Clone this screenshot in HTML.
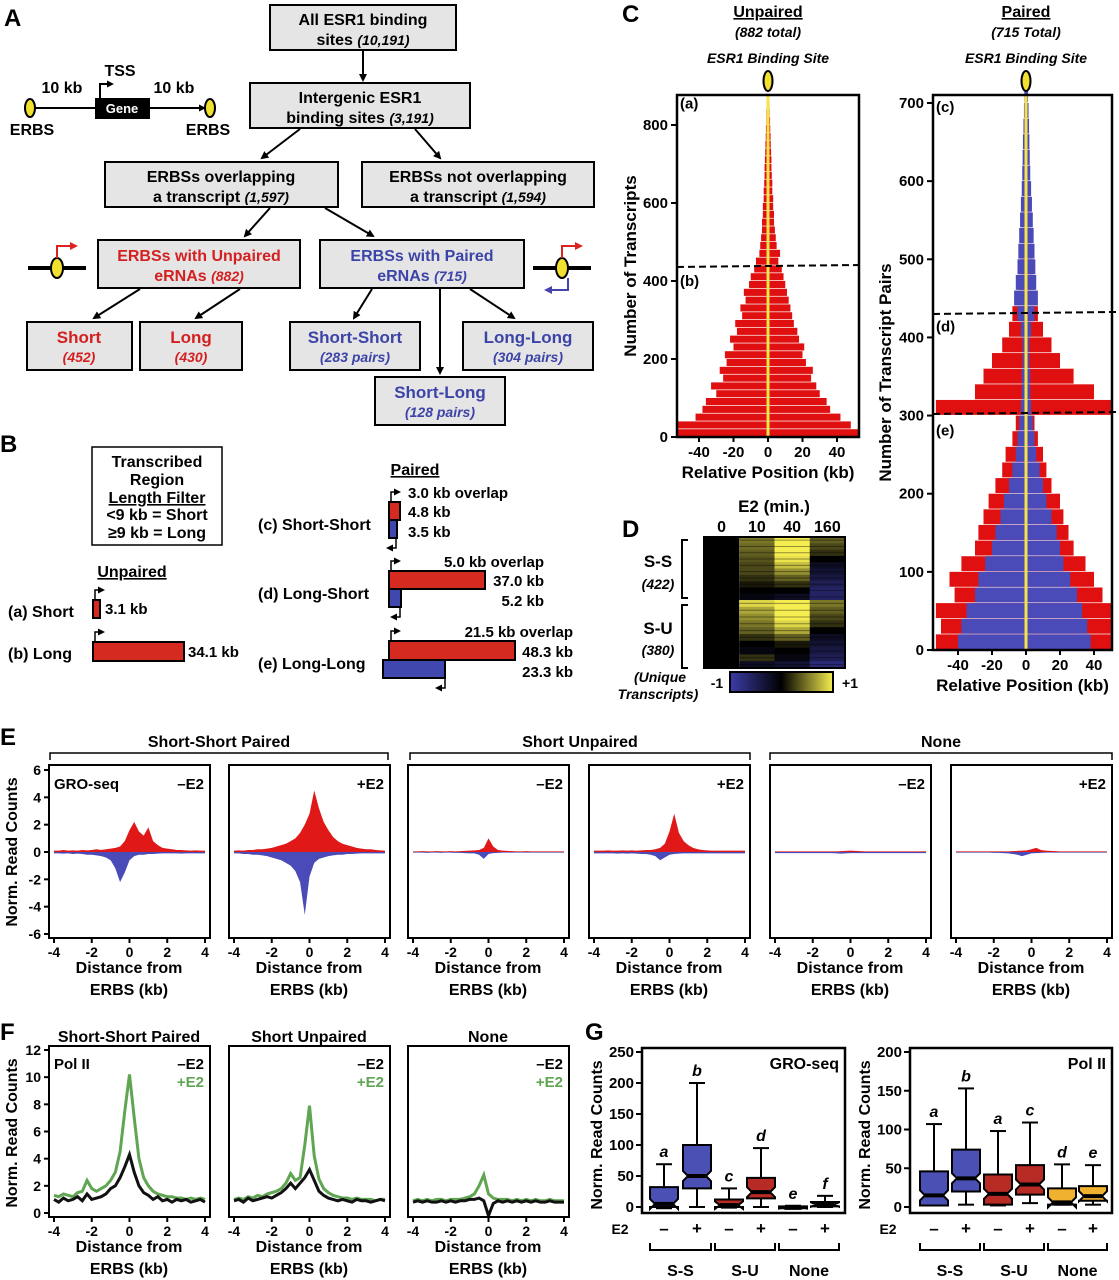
<!DOCTYPE html>
<html><head><meta charset="utf-8"><style>
body{margin:0;background:#fff}
svg{display:block;font-family:"Liberation Sans",Arial,sans-serif;font-weight:bold}
text{fill:#000}
</style></head><body>
<svg id="fig" width="1119" height="1280" viewBox="0 0 1119 1280" xmlns="http://www.w3.org/2000/svg">
<defs>
<marker id="ah" markerWidth="8" markerHeight="8" refX="6" refY="4" orient="auto" markerUnits="userSpaceOnUse"><path d="M0,0 L8,4 L0,8 z" fill="#000"/></marker>
<marker id="ahs" markerWidth="7" markerHeight="7" refX="5" refY="3.5" orient="auto" markerUnits="userSpaceOnUse"><path d="M0,0 L7,3.5 L0,7 z" fill="#000"/></marker>
<marker id="ahr" markerWidth="8" markerHeight="8" refX="6" refY="4" orient="auto" markerUnits="userSpaceOnUse"><path d="M0,0 L8,4 L0,8 z" fill="#d22"/></marker>
<marker id="ahb" markerWidth="8" markerHeight="8" refX="6" refY="4" orient="auto" markerUnits="userSpaceOnUse"><path d="M0,0 L8,4 L0,8 z" fill="#44a"/></marker>
<linearGradient id="cbar" x1="0" x2="1" y1="0" y2="0"><stop offset="0" stop-color="#3c3ca8"/><stop offset="0.5" stop-color="#000"/><stop offset="1" stop-color="#f6ee50"/></linearGradient>
</defs>

<!-- Panel A -->
<g font-size="16">
<text x="4" y="26" font-size="24">A</text>
<g>
<line x1="36" y1="108" x2="204" y2="108" stroke="#000" stroke-width="2" marker-start="url(#ahs)" marker-end="url(#ahs)"/>
<rect x="95" y="98" width="55" height="21" fill="#000"/>
<text x="122" y="113" fill="#fff" style="fill:#fff" font-size="13" text-anchor="middle">Gene</text>
<path d="M100,98 V84 H112" stroke="#000" stroke-width="2" fill="none" marker-end="url(#ahs)"/>
<text x="120" y="76" text-anchor="middle">TSS</text>
<text x="62" y="93" text-anchor="middle">10 kb</text>
<text x="174" y="93" text-anchor="middle">10 kb</text>
<ellipse cx="30" cy="108" rx="5" ry="9" fill="#f2e030" stroke="#000" stroke-width="2"/>
<ellipse cx="210" cy="108" rx="5" ry="9" fill="#f2e030" stroke="#000" stroke-width="2"/>
<text x="32" y="135" text-anchor="middle">ERBS</text>
<text x="208" y="135" text-anchor="middle">ERBS</text>
</g>
<g fill="#e5e5e5" stroke="#000" stroke-width="2">
<rect x="270" y="5" width="186" height="45"/>
<rect x="250" y="83" width="220" height="45"/>
<rect x="105" y="162" width="233" height="45"/>
<rect x="362" y="162" width="232" height="45"/>
<rect x="98" y="240" width="202" height="48"/>
<rect x="320" y="240" width="204" height="48"/>
<rect x="27" y="322" width="105" height="48"/>
<rect x="140" y="322" width="102" height="48"/>
<rect x="290" y="322" width="130" height="48"/>
<rect x="463" y="322" width="130" height="48"/>
<rect x="375" y="377" width="130" height="48"/>
</g>
<g text-anchor="middle">
<text x="363" y="25">All ESR1 binding</text><text x="363" y="45">sites <tspan font-style="italic" font-size="14">(10,191)</tspan></text>
<text x="360" y="103">Intergenic ESR1</text><text x="360" y="123">binding sites <tspan font-style="italic" font-size="14">(3,191)</tspan></text>
<text x="221" y="182">ERBSs overlapping</text><text x="221" y="202">a transcript <tspan font-style="italic" font-size="14">(1,597)</tspan></text>
<text x="478" y="182">ERBSs not overlapping</text><text x="478" y="202">a transcript <tspan font-style="italic" font-size="14">(1,594)</tspan></text>
<text x="199" y="261" style="fill:#d42020">ERBSs with Unpaired</text><text x="199" y="281" style="fill:#d42020">eRNAs <tspan font-style="italic" font-size="14">(882)</tspan></text>
<text x="422" y="261" style="fill:#3c44a8">ERBSs with Paired</text><text x="422" y="281" style="fill:#3c44a8">eRNAs <tspan font-style="italic" font-size="14">(715)</tspan></text>
<text x="79" y="343" font-size="17" style="fill:#d42020">Short</text><text x="79" y="362" font-size="14" font-style="italic" style="fill:#d42020">(452)</text>
<text x="191" y="343" font-size="17" style="fill:#d42020">Long</text><text x="191" y="362" font-size="14" font-style="italic" style="fill:#d42020">(430)</text>
<text x="355" y="343" font-size="17" style="fill:#3c44a8">Short-Short</text><text x="355" y="362" font-size="14" font-style="italic" style="fill:#3c44a8">(283 pairs)</text>
<text x="528" y="343" font-size="17" style="fill:#3c44a8">Long-Long</text><text x="528" y="362" font-size="14" font-style="italic" style="fill:#3c44a8">(304 pairs)</text>
<text x="440" y="398" font-size="17" style="fill:#3c44a8">Short-Long</text><text x="440" y="417" font-size="14" font-style="italic" style="fill:#3c44a8">(128 pairs)</text>
</g>
<g stroke="#000" stroke-width="2" marker-end="url(#ah)">
<line x1="363" y1="51" x2="363" y2="80"/>
<line x1="300" y1="129" x2="262" y2="158"/><line x1="415" y1="129" x2="440" y2="158"/>
<line x1="270" y1="208" x2="245" y2="236"/><line x1="325" y1="208" x2="373" y2="236"/>
<line x1="140" y1="289" x2="94" y2="318"/><line x1="240" y1="289" x2="196" y2="318"/>
<line x1="372" y1="289" x2="354" y2="318"/><line x1="440" y1="289" x2="440" y2="373"/><line x1="470" y1="289" x2="514" y2="318"/>
</g>
<g>
<line x1="28" y1="268" x2="86" y2="268" stroke="#000" stroke-width="4"/>
<ellipse cx="57" cy="268" rx="6" ry="10" fill="#f2e030" stroke="#000" stroke-width="2"/>
<path d="M57,258 V246 H76" stroke="#d22" stroke-width="2" fill="none" marker-end="url(#ahr)"/>
</g>
<g>
<line x1="533" y1="268" x2="591" y2="268" stroke="#000" stroke-width="4"/>
<ellipse cx="562" cy="268" rx="6" ry="10" fill="#f2e030" stroke="#000" stroke-width="2"/>
<path d="M562,258 V246 H581" stroke="#d22" stroke-width="2" fill="none" marker-end="url(#ahr)"/>
<path d="M568,278 V290 H546" stroke="#44a" stroke-width="2" fill="none" marker-end="url(#ahb)"/>
</g>
</g>

<!-- Panel B -->
<g font-size="16">
<text x="0" y="452" font-size="24">B</text>
<rect x="92" y="447" width="130" height="98" fill="#fff" stroke="#000" stroke-width="1.5"/>
<g text-anchor="middle">
<text x="157" y="467">Transcribed</text><text x="157" y="485">Region</text>
<text x="157" y="503" text-decoration="underline">Length Filter</text>
<text x="157" y="520">&lt;9 kb = Short</text><text x="157" y="538">≥9 kb = Long</text>
<text x="132" y="577" text-decoration="underline">Unpaired</text>
<text x="415" y="475" text-decoration="underline">Paired</text>
</g>
<text x="8" y="617">(a) Short</text>
<path d="M95,600 V590 H103" stroke="#000" stroke-width="1.5" fill="none" marker-end="url(#ahs)"/>
<rect x="93" y="600" width="7" height="18" fill="#d42a20" stroke="#000" stroke-width="2"/>
<text x="105" y="614" font-size="15">3.1 kb</text>
<text x="8" y="659">(b) Long</text>
<path d="M95,642 V632 H103" stroke="#000" stroke-width="1.5" fill="none" marker-end="url(#ahs)"/>
<rect x="93" y="642" width="91" height="19" fill="#d42a20" stroke="#000" stroke-width="2"/>
<text x="188" y="657" font-size="15">34.1 kb</text>
<text x="258" y="530">(c) Short-Short</text>
<path d="M391,502 V492 H399" stroke="#000" stroke-width="1.5" fill="none" marker-end="url(#ahs)"/>
<rect x="389" y="502" width="11" height="18" fill="#d42a20" stroke="#000" stroke-width="2"/>
<rect x="389" y="520" width="8" height="18" fill="#4048b0" stroke="#000" stroke-width="2"/>
<path d="M396,538 V548 H388" stroke="#000" stroke-width="1.5" fill="none" marker-end="url(#ahs)"/>
<g font-size="15"><text x="408" y="498">3.0 kb overlap</text><text x="408" y="517">4.8 kb</text><text x="408" y="537">3.5 kb</text></g>
<text x="258" y="599">(d) Long-Short</text>
<path d="M391,571 V561 H399" stroke="#000" stroke-width="1.5" fill="none" marker-end="url(#ahs)"/>
<rect x="389" y="571" width="96" height="18" fill="#d42a20" stroke="#000" stroke-width="2"/>
<rect x="389" y="589" width="12" height="18" fill="#4048b0" stroke="#000" stroke-width="2"/>
<path d="M400,607 V617 H392" stroke="#000" stroke-width="1.5" fill="none" marker-end="url(#ahs)"/>
<g font-size="15" text-anchor="end"><text x="544" y="567">5.0 kb overlap</text><text x="544" y="586">37.0 kb</text><text x="544" y="606">5.2 kb</text></g>
<text x="258" y="669">(e) Long-Long</text>
<path d="M391,641 V631 H399" stroke="#000" stroke-width="1.5" fill="none" marker-end="url(#ahs)"/>
<rect x="389" y="641" width="126" height="19" fill="#d42a20" stroke="#000" stroke-width="2"/>
<rect x="383" y="660" width="62" height="18" fill="#4048b0" stroke="#000" stroke-width="2"/>
<path d="M445,678 V688 H437" stroke="#000" stroke-width="1.5" fill="none" marker-end="url(#ahs)"/>
<g font-size="15" text-anchor="end"><text x="573" y="637">21.5 kb overlap</text><text x="573" y="657">48.3 kb</text><text x="573" y="677">23.3 kb</text></g>
</g>

<!-- Static labels C/D/E/F/G -->
<g font-size="24">
<text x="622" y="22">C</text><text x="622" y="537">D</text><text x="0" y="745">E</text><text x="0" y="1040">F</text><text x="585" y="1040">G</text>
</g>
<g id="dyn"></g>
</svg>
<script>
// ---------- data ----------
const unpairedLeft=[-53,-53,-42,-38,-36,-30,-33,-26,-28,-24,-25,-20,-22,-18,-19,-15,-16,-13,-14,-11,-10,-8,-7,-5,-4.5,-4,-3.5,-3.5,-3,-3,-2.5,-2.5,-2.2,-2,-2,-1.8,-1.6,-1.5,-1.3,-1.2,-1,-1,-0.8,-0.8];
const unpairedRight=[53,48,42,36,34,30,28,25,26,22,20,21,18,17,15,14,13,12,11,10,9,8,6,7,5,4.5,4,3.5,3.5,3,3,2.5,2.5,2.2,2,2,1.8,1.6,1.5,1.3,1.2,1,0.9,0.8];
const pairedRedLeft=[-53,-50,-53,-42,-45,-38,-30,-28,-25,-22,-18,-14,-12,-8,-6,-53,-30,-25,-20,-14,-10,-8,-5,-4,-3.5,-3,-2.5,-2.5,-2,-2,-1.8,-1.5,-1.2,-1,-1,-0.8];
const pairedRedRight=[53,52,50,45,40,35,28,25,22,20,15,12,10,7,5,53,40,28,20,15,10,7,5,4.5,4,3.5,3,3,2.5,2,2,1.8,1.5,1.2,1,0.8];
const pairedBlueLeft=[-40,-38,-35,-30,-28,-24,-20,-18,-15,-13,-10,-8,-6,-5,-4,-3,-2.5,-2.5,-2,-2,-3,-5,-7,-6,-5,-4.5,-4,-3.5,-3,-2.5,-2.2,-2,-1.8,-1.5,-1.2,-1];
const pairedBlueRight=[38,36,33,30,26,22,20,18,15,12,10,8,6,5,4,3,2.5,2.5,2,2,3,5,7,6,5.5,5,4.5,4,3.5,3,2.5,2.2,2,1.8,1.5,1.2];
const pairedTicks=[0,100,200,300,400,500,600,700];
const unpairedTicks=[0,200,400,600,800];
const kbTicks=[-40,-20,0,20,40];
const heatTimes=["0","10","40","160"];
const ssCol10=[0.5,0.45,0.4,0.35,0.3,0.3,0.2,0.1,0,-0.1];
const ssCol40=[1,1,1,0.95,0.8,0.6,0.4,0.2,0,-0.2];
const ssCol160=[0.4,0.3,0.2,0,-0.2,-0.3,-0.4,-0.5,-0.6,-0.6];
const suCol10=[0.9,0.7,0.6,0.5,0.4,0.2,0,-0.1,0.2,-0.2];
const suCol40=[1,1,1,0.9,0.7,0.4,0.1,0,-0.1,-0.3];
const suCol160=[0.5,0.4,0.3,0.2,0,-0.2,-0.3,-0.4,-0.5,-0.7];
const distX=[-4,-3.75,-3.5,-3.25,-3,-2.75,-2.5,-2.25,-2,-1.75,-1.5,-1.25,-1,-0.75,-0.5,-0.25,0,0.25,0.5,0.75,1,1.25,1.5,1.75,2,2.25,2.5,2.75,3,3.25,3.5,3.75,4];
const e1Pos=[.1,.1,.15,.1,.12,.1,.15,.12,.15,.2,.15,.2,.25,.3,.4,.8,1.6,2.2,1.5,1.2,1.8,.8,.5,.3,.25,.2,.15,.15,.12,.1,.12,.1,.1];
const e1Neg=[-.1,-.1,-.12,-.1,-.15,-.12,-.15,-.2,-.2,-.25,-.3,-.4,-.6,-1.2,-2.2,-1.5,-.6,-.3,-.2,-.2,-.15,-.15,-.12,-.1,-.1,-.1,-.1,-.12,-.1,-.1,-.1,-.1,-.1];
const e2Pos=[.1,.12,.1,.15,.15,.2,.2,.25,.3,.4,.5,.6,.8,1,1.4,2,2.8,4.5,3.2,2.2,1.6,1.1,.8,.6,.5,.4,.3,.25,.2,.2,.15,.12,.1];
const e2Neg=[-.1,-.1,-.15,-.15,-.2,-.2,-.25,-.3,-.4,-.5,-.6,-.8,-1,-1.4,-2.2,-4.6,-1.8,-.8,-.5,-.4,-.3,-.25,-.2,-.2,-.15,-.15,-.12,-.1,-.1,-.1,-.1,-.1,-.1];
const e3Pos=[.05,.05,.06,.05,.05,.06,.05,.05,.06,.05,.06,.08,.1,.12,.15,.3,1,.4,.15,.1,.08,.06,.05,.05,.06,.05,.05,.05,.05,.05,.05,.05,.05];
const e3Neg=[-.05,-.05,-.05,-.06,-.05,-.05,-.06,-.05,-.05,-.06,-.06,-.08,-.1,-.1,-.2,-.5,-.15,-.08,-.06,-.05,-.05,-.05,-.05,-.05,-.05,-.05,-.05,-.05,-.05,-.05,-.05,-.05,-.05];
const e4Pos=[.1,.1,.1,.12,.1,.1,.12,.1,.12,.1,.12,.15,.15,.2,.3,.6,1.5,2.8,1.4,.8,.5,.3,.2,.15,.12,.1,.1,.1,.1,.1,.1,.1,.1];
const e4Neg=[-.1,-.1,-.1,-.1,-.1,-.12,-.1,-.12,-.1,-.12,-.15,-.15,-.2,-.3,-.6,-.4,-.2,-.15,-.12,-.1,-.1,-.1,-.1,-.1,-.1,-.1,-.1,-.1,-.1,-.1,-.1,-.1,-.1];
const e5Pos=[.05,.05,.05,.05,.05,.05,.05,.05,.05,.05,.05,.05,.05,.05,.06,.08,.1,.08,.06,.05,.05,.05,.05,.05,.05,.05,.05,.05,.05,.05,.05,.05,.05];
const e5Neg=[-.08,-.08,-.08,-.08,-.08,-.08,-.08,-.08,-.08,-.08,-.08,-.08,-.08,-.1,-.12,-.1,-.08,-.08,-.08,-.08,-.08,-.08,-.08,-.08,-.08,-.08,-.08,-.08,-.08,-.08,-.08,-.08,-.08];
const e6Pos=[.05,.05,.05,.05,.05,.05,.05,.05,.05,.05,.05,.05,.06,.08,.1,.12,.2,.3,.15,.1,.08,.06,.05,.05,.05,.05,.05,.05,.05,.05,.05,.05,.05];
const e6Neg=[-.05,-.05,-.05,-.05,-.05,-.05,-.05,-.05,-.06,-.06,-.08,-.1,-.15,-.2,-.3,-.2,-.1,-.08,-.06,-.05,-.05,-.05,-.05,-.05,-.05,-.05,-.05,-.05,-.05,-.05,-.05,-.05,-.05];
const eYTicks=[-6,-4,-2,0,2,4,6];
const distTicks=[-4,-2,0,2,4];
const f1Plus=[1.3,1.2,1.4,1.3,1.2,1.5,1.6,2.4,1.8,1.6,1.8,2,2.4,3,4.5,7.5,10.2,7,4,2.6,2,1.6,1.4,1.3,1.2,1.2,1.1,1.1,1,1.1,1,1.1,1];
const f1Minus=[1,.8,1.1,.9,1,1.2,.9,1.4,1,1.1,1.2,1.4,1.8,2,2.6,3.4,4.3,3,2,1.5,1.3,1,1.2,.9,1,.8,1,.9,1,.8,.9,1,.8];
const f2Plus=[1,1.1,1,1.2,1.1,1.3,1.2,1.4,1.5,1.6,1.8,2.2,2.9,2.4,2.6,5,7.9,4.2,2.5,1.8,1.5,1.3,1.2,1.1,1.1,1,1.1,1,1,1,.9,1,1];
const f2Minus=[.9,1,.8,1.1,.9,1,1.1,1.2,1.1,1.3,1.5,1.8,2.2,1.8,2.2,2.6,3.2,2.4,1.6,1.3,1.1,1,.9,1,.9,.8,1,.9,.9,.8,.9,1,.9];
const f3Plus=[.9,1,.9,1,.9,1,1,.9,1,1,1,1.1,1.2,1.4,2,2.8,1.4,1.1,1,1,1,.9,1,.9,1,.9,1,.9,.9,1,.9,.9,.9];
const f3Minus=[.8,.9,.8,.9,.8,.8,.9,.8,.9,.8,.9,.9,1,1,1.1,.9,-.2,.7,.9,.8,.9,.8,.9,.8,.9,.8,.9,.8,.8,.9,.8,.8,.8];
const fYTicks=[0,2,4,6,8,10,12];
const groups=["S-S","S-U","None"];
const groLetters=["a","b","c","d","e","f"];
const groMin=[-2,0,-1,0,-3,0], groQ1=[0,30,0,14,-2,1], groMed=[5,50,3,24,-1,4], groQ3=[32,100,12,47,1,8], groMax=[69,200,30,95,2,18];
const polLetters=["a","b","a","c","d","e"];
const polMin=[2,3,2,5,3,3], polQ1=[2,20,3,16,3,8], polMed=[15,37,17,29,6,14], polQ3=[46,74,42,54,24,27], polMax=[107,153,98,109,55,54];
const groTicks=[0,50,100,150,200,250];
const polTicks=[0,50,100,150,200];

// ---------- helpers ----------
const NS="http://www.w3.org/2000/svg";
const root=document.getElementById('dyn');
function mk(tag,attrs,name,parent){
  const el=document.createElementNS(NS,tag);
  for(const k in attrs) el.setAttribute(k,attrs[k]);
  
  
  (parent||root).appendChild(el);
  return el;
}
function txt(x,y,s,name,opt){
  const a=Object.assign({x:x,y:y},opt||{});
  const t=mk('text',a,name);
  t.textContent=s;return t;
}
function lin(d0,d1,r0,r1){return v=>r0+(v-d0)/(d1-d0)*(r1-r0);}

// ---------- C ----------
function barPanel(cfg){
  const X=lin(-40,40,cfg.x40n,cfg.x40p), Y=lin(0,cfg.tv,cfg.y0,cfg.yt);
  const g=mk('g',{},cfg.name);
  cfg.series.forEach(s=>{
    s.L.forEach((l,i)=>{
      const y1=Y(i*20), y2=Y(Math.min((i+1)*20,cfg.max));
      const xl=Math.max(X(l),cfg.x0), xr=Math.min(X(s.R[i]),cfg.x1);
      mk('rect',{x:xl,y:y2,width:xr-xl,height:y1-y2-0.7,fill:s.c},'bar-'+s.n+'-'+i,g);
    });
  });
  mk('line',{x1:X(0),x2:X(0),y1:cfg.top,y2:cfg.y0,stroke:'#f6e24a','stroke-width':3},'binding-site-line',g);
  mk('rect',{x:cfg.x0,y:cfg.top,width:cfg.x1-cfg.x0,height:cfg.y0-cfg.top,fill:'none',stroke:'#000','stroke-width':2.5},'plot-frame',g);
  cfg.ticks.forEach(t=>{
    mk('line',{x1:cfg.x0-6,x2:cfg.x0,y1:Y(t),y2:Y(t),stroke:'#000','stroke-width':2},'y-tick',g);
    txt(cfg.x0-9,Y(t)+5,String(t),'y-tick-label',{'text-anchor':'end','font-size':15});
  });
  kbTicks.forEach(t=>{
    mk('line',{x1:X(t),x2:X(t),y1:cfg.y0,y2:cfg.y0+5,stroke:'#000','stroke-width':2},'x-tick',g);
    txt(X(t),cfg.y0+20,String(t),'x-tick-label',{'text-anchor':'middle','font-size':15});
  });
  txt((cfg.x0+cfg.x1)/2,cfg.y0+41,'Relative Position (kb)','x-axis-title',{'text-anchor':'middle','font-size':17});
  txt(0,0,cfg.ytitle,'y-axis-title',{'text-anchor':'middle','font-size':17,transform:`translate(${cfg.ytx},${(cfg.top+cfg.y0)/2}) rotate(-90)`});
  cfg.dashes.forEach(d=>mk('line',{x1:cfg.x0,x2:cfg.x1+4,y1:Y(d),y2:Y(d)-2,stroke:'#000','stroke-width':2,'stroke-dasharray':'7,4'},'divider-line',g));
  cfg.tags.forEach(t=>txt(cfg.x0+3,Y(t[1])+5,t[0],'subset-label',{'font-size':15}));
  const cx=X(0);
  txt(cx,17,cfg.title,'panel-title',{'text-anchor':'middle','font-size':16,'text-decoration':'underline'});
  txt(cx,37,cfg.sub,'panel-subtitle',{'text-anchor':'middle','font-size':14,'font-style':'italic'});
  txt(cx,63,'ESR1 Binding Site','binding-site-title',{'text-anchor':'middle','font-size':14,'font-style':'italic'});
  mk('ellipse',{cx:cx,cy:81,rx:4.5,ry:10,fill:'#f2e030',stroke:'#000','stroke-width':2},'binding-site-icon',g);
}
barPanel({name:'unpaired-chart',x0:677,x1:859,x40n:699,x40p:837,y0:437,yt:125,tv:800,top:95,max:882,
  series:[{n:'unpaired',L:unpairedLeft,R:unpairedRight,c:'#e01010'}],ticks:unpairedTicks,ytitle:'Number of Transcripts',ytx:636,
  dashes:[436],tags:[['(a)',855],['(b)',400]],title:'Unpaired',sub:'(882 total)'});
barPanel({name:'paired-chart',x0:933,x1:1112,x40n:958,x40p:1094,y0:650,yt:103,tv:700,top:95,max:715,
  series:[{n:'red',L:pairedRedLeft,R:pairedRedRight,c:'#e01010'},{n:'blue',L:pairedBlueLeft,R:pairedBlueRight,c:'#4a4ab8'}],ticks:pairedTicks,ytitle:'Number of Transcript Pairs',ytx:891,
  dashes:[430,302],tags:[['(c)',695],['(d)',414],['(e)',281]],title:'Paired',sub:'(715 Total)'});

// ---------- D ----------
function hcol(v){
  if(v>=0){const r=Math.round(246*v),g=Math.round(238*v),b=Math.round(80*v);return `rgb(${r},${g},${b})`;}
  const a=-v;return `rgb(${Math.round(60*a)},${Math.round(60*a)},${Math.round(168*a)})`;
}
(function(){
  const g=mk('g',{},'heatmap');
  const x0=704,cw=35.25,groupsD=[{y:537,h:63,cols:[ssCol10,ssCol40,ssCol160]},{y:600,h:68,cols:[suCol10,suCol40,suCol160]}];
  mk('rect',{x:x0,y:537,width:cw,height:131,fill:'#000'},'heat-col-0',g);
  groupsD.forEach((gr,gi)=>{
    gr.cols.forEach((col,ci)=>{
      const bh=gr.h/col.length;
      col.forEach((v,ri)=>{
        mk('rect',{x:x0+cw*(ci+1),y:gr.y+ri*bh,width:cw+0.3,height:bh+0.3,fill:hcol(v)},'heat-cell',g);
        mk('line',{x1:x0+cw*(ci+1),x2:x0+cw*(ci+2),y1:gr.y+ri*bh+bh/2,y2:gr.y+ri*bh+bh/2,stroke:hcol(v*0.6),'stroke-width':1},'heat-texture',g);
      });
    });
  });
  mk('rect',{x:x0,y:537,width:cw*4,height:131,fill:'none',stroke:'#000','stroke-width':2},'heatmap-frame',g);
  heatTimes.forEach((t,i)=>txt(x0+cw*(i+0.5),532,t,'heat-time-label',{'text-anchor':'middle','font-size':16}));
  txt(774,512,'E2 (min.)','heat-x-title',{'text-anchor':'middle','font-size':17});
  txt(658,567,'S-S','ss-label',{'text-anchor':'middle','font-size':17});
  txt(658,589,'(422)','ss-count',{'text-anchor':'middle','font-size':14,'font-style':'italic'});
  txt(658,634,'S-U','su-label',{'text-anchor':'middle','font-size':17});
  txt(658,655,'(380)','su-count',{'text-anchor':'middle','font-size':14,'font-style':'italic'});
  mk('path',{d:'M688,540 H682 V598 H688 M688,605 H682 V668 H688',stroke:'#000','stroke-width':2,fill:'none'},'group-brackets',g);
  txt(660,682,'(Unique','unique-label',{'text-anchor':'middle','font-size':14,'font-style':'italic'});
  txt(658,699,'Transcripts)','unique-label-2',{'text-anchor':'middle','font-size':14,'font-style':'italic'});
  mk('rect',{x:730,y:672,width:103,height:20,fill:'url(#cbar)',stroke:'#000','stroke-width':2},'colorbar',g);
  txt(717,688,'-1','colorbar-min',{'text-anchor':'middle','font-size':14});
  txt(850,688,'+1','colorbar-max',{'text-anchor':'middle','font-size':14});
})();

// ---------- E ----------
const eLefts=[49,229,408,589,770,951];
const eData=[[e1Pos,e1Neg],[e2Pos,e2Neg],[e3Pos,e3Neg],[e4Pos,e4Neg],[e5Pos,e5Neg],[e6Pos,e6Neg]];
function areaPath(X,Y,xs,ys){let d=`M${X(xs[0])},${Y(0)}`;xs.forEach((x,i)=>d+=` L${X(x)},${Y(ys[i])}`);return d+` L${X(xs[xs.length-1])},${Y(0)} Z`;}
function linePath(X,Y,xs,ys){return xs.map((x,i)=>(i?'L':'M')+X(x)+','+Y(ys[i])).join(' ');}
function distAxes(g,left,X,y0,yb){
  distTicks.forEach(t=>{
    mk('line',{x1:X(t),x2:X(t),y1:yb,y2:yb+5,stroke:'#000','stroke-width':2},'x-tick',g);
    txt(X(t),yb+19,String(t),'x-tick-label',{'text-anchor':'middle','font-size':14});
  });
  txt(left+80,yb+35,'Distance from','x-axis-title',{'text-anchor':'middle','font-size':16});
  txt(left+80,yb+57,'ERBS (kb)','x-axis-title-2',{'text-anchor':'middle','font-size':16});
}
eLefts.forEach((left,pi)=>{
  const g=mk('g',{},'gro-profile-'+(pi+1));
  const X=lin(-4,4,left+5,left+156), Y=lin(0,6,852,770);
  mk('path',{d:areaPath(X,Y,distX,eData[pi][0]),fill:'#e01818'},'plus-strand-area',g);
  mk('path',{d:areaPath(X,Y,distX,eData[pi][1]),fill:'#4a4ab8'},'minus-strand-area',g);
  mk('rect',{x:left,y:765,width:161,height:173,fill:'none',stroke:'#000','stroke-width':2},'plot-frame',g);
  if(pi===0){eYTicks.forEach(t=>{mk('line',{x1:left-5,x2:left,y1:Y(t),y2:Y(t),stroke:'#000','stroke-width':2},'y-tick',g);
    txt(left-8,Y(t)+5,String(t),'y-tick-label',{'text-anchor':'end','font-size':14});});
    txt(left+5,789,'GRO-seq','assay-label',{'font-size':15});}
  txt(left+155,789,pi%2?'+E2':'–E2','treatment-label',{'text-anchor':'end','font-size':15});
  distAxes(g,left,X,852,938);
});
txt(0,0,'Norm. Read Counts','e-y-axis-title',{'text-anchor':'middle','font-size':16,transform:'translate(17,852) rotate(-90)'});
[['Short-Short Paired',50,388],['Short Unpaired',410,750],['None',770,1112]].forEach(b=>{
  txt((b[1]+b[2])/2,747,b[0],'group-title',{'text-anchor':'middle','font-size':16});
  mk('path',{d:`M${b[1]},760 V753 H${b[2]} V760`,stroke:'#000','stroke-width':1.5,fill:'none'},'group-bracket');
});

// ---------- F ----------
const fData=[[f1Minus,f1Plus],[f2Minus,f2Plus],[f3Minus,f3Plus]];
const fTitles=['Short-Short Paired','Short Unpaired','None'];
[49,229,408].forEach((left,pi)=>{
  const g=mk('g',{},'polii-profile-'+(pi+1));
  const X=lin(-4,4,left+5,left+156), Y=lin(0,12,1213,1050);
  mk('path',{d:linePath(X,Y,distX,fData[pi][1]),fill:'none',stroke:'#5fa552','stroke-width':3},'plus-e2-line',g);
  mk('path',{d:linePath(X,Y,distX,fData[pi][0]),fill:'none',stroke:'#111','stroke-width':3},'minus-e2-line',g);
  mk('rect',{x:left,y:1046,width:161,height:171,fill:'none',stroke:'#000','stroke-width':2},'plot-frame',g);
  if(pi===0){fYTicks.forEach(t=>{mk('line',{x1:left-5,x2:left,y1:Y(t),y2:Y(t),stroke:'#000','stroke-width':2},'y-tick',g);
    txt(left-8,Y(t)+5,String(t),'y-tick-label',{'text-anchor':'end','font-size':14});});
    txt(left+5,1069,'Pol II','assay-label',{'font-size':15});}
  txt(left+155,1069,'–E2','legend-minus-e2',{'text-anchor':'end','font-size':15});
  txt(left+155,1087,'+E2','legend-plus-e2',{'text-anchor':'end','font-size':15,style:'fill:#5fa552'});
  txt(left+80,1042,fTitles[pi],'group-title',{'text-anchor':'middle','font-size':16});
  distAxes(g,left,X,1213,1217);
});
txt(0,0,'Norm. Read Counts','f-y-axis-title',{'text-anchor':'middle','font-size':16,transform:'translate(17,1133) rotate(-90)'});

// ---------- G ----------
const boxColors=['#4a50b4','#4a50b4','#b82a24','#b82a24','#f0b030','#f0b030'];
function boxPanel(cfg){
  const g=mk('g',{},cfg.name);
  const Y=lin(0,cfg.tv,1207,1052);
  cfg.xs.forEach((cx,i)=>{
    const w=14,n=5,yq1=Y(cfg.q1[i]),yq3=Y(cfg.q3[i]),ym=Y(cfg.med[i]);
    mk('line',{x1:cx,x2:cx,y1:Y(cfg.max[i]),y2:Y(cfg.min[i]),stroke:'#000','stroke-width':2},'whisker',g);
    mk('line',{x1:cx-8,x2:cx+8,y1:Y(cfg.max[i]),y2:Y(cfg.max[i]),stroke:'#000','stroke-width':2},'whisker-cap',g);
    mk('line',{x1:cx-8,x2:cx+8,y1:Y(cfg.min[i]),y2:Y(cfg.min[i]),stroke:'#000','stroke-width':2},'whisker-cap',g);
    const nt=Math.min(5,(yq1-yq3)/2);
    mk('path',{d:`M${cx-w},${yq3} H${cx+w} V${ym-nt} L${cx+w-n},${ym} L${cx+w},${ym+nt} V${yq1} H${cx-w} V${ym+nt} L${cx-w+n},${ym} L${cx-w},${ym-nt} Z`,fill:cfg.colors[i],stroke:'#000','stroke-width':2},'box-'+i,g);
    mk('line',{x1:cx-w+n,x2:cx+w-n,y1:ym,y2:ym,stroke:'#000','stroke-width':4},'median',g);
    txt(cx,Y(cfg.max[i])-7,cfg.letters[i],'significance-letter',{'text-anchor':'middle','font-size':16,'font-style':'italic'});
    txt(cx,1234,i%2?'+':'–','e2-sign',{'text-anchor':'middle','font-size':17});
  });
  mk('rect',{x:cfg.x0,y:1048,width:cfg.x1-cfg.x0,height:165,fill:'none',stroke:'#000','stroke-width':2.5},'plot-frame',g);
  cfg.ticks.forEach(t=>{mk('line',{x1:cfg.x0-6,x2:cfg.x0,y1:Y(t),y2:Y(t),stroke:'#000','stroke-width':2},'y-tick',g);
    txt(cfg.x0-8,Y(t)+5,String(t),'y-tick-label',{'text-anchor':'end','font-size':15});});
  txt(cfg.x1-6,1069,cfg.label,'assay-label',{'text-anchor':'end','font-size':16});
  txt(cfg.x0-22,1234,'E2','e2-label',{'text-anchor':'middle','font-size':14});
  txt(0,0,'Norm. Read Counts','y-axis-title',{'text-anchor':'middle','font-size':16,transform:`translate(${cfg.x0-40},1135) rotate(-90)`});
  groups.forEach((gn,k)=>{
    const a=cfg.xs[2*k]-14,b=cfg.xs[2*k+1]+14;
    mk('path',{d:`M${a},1243 V1250 H${b} V1243`,stroke:'#000','stroke-width':2,fill:'none'},'group-bracket',g);
    txt((a+b)/2,1276,gn,'group-label',{'text-anchor':'middle','font-size':16});
  });
}
boxPanel({name:'groseq-boxplot',x0:642,x1:845,tv:250,xs:[664,697,729,761,793,825],min:groMin,q1:groQ1,med:groMed,q3:groQ3,max:groMax,letters:groLetters,colors:boxColors,ticks:groTicks,label:'GRO-seq'});
boxPanel({name:'polii-boxplot',x0:910,x1:1112,tv:200,xs:[934,966,998,1030,1062,1093],min:polMin,q1:polQ1,med:polMed,q3:polQ3,max:polMax,letters:polLetters,colors:boxColors,ticks:polTicks,label:'Pol II'});
</script>
</body></html>
